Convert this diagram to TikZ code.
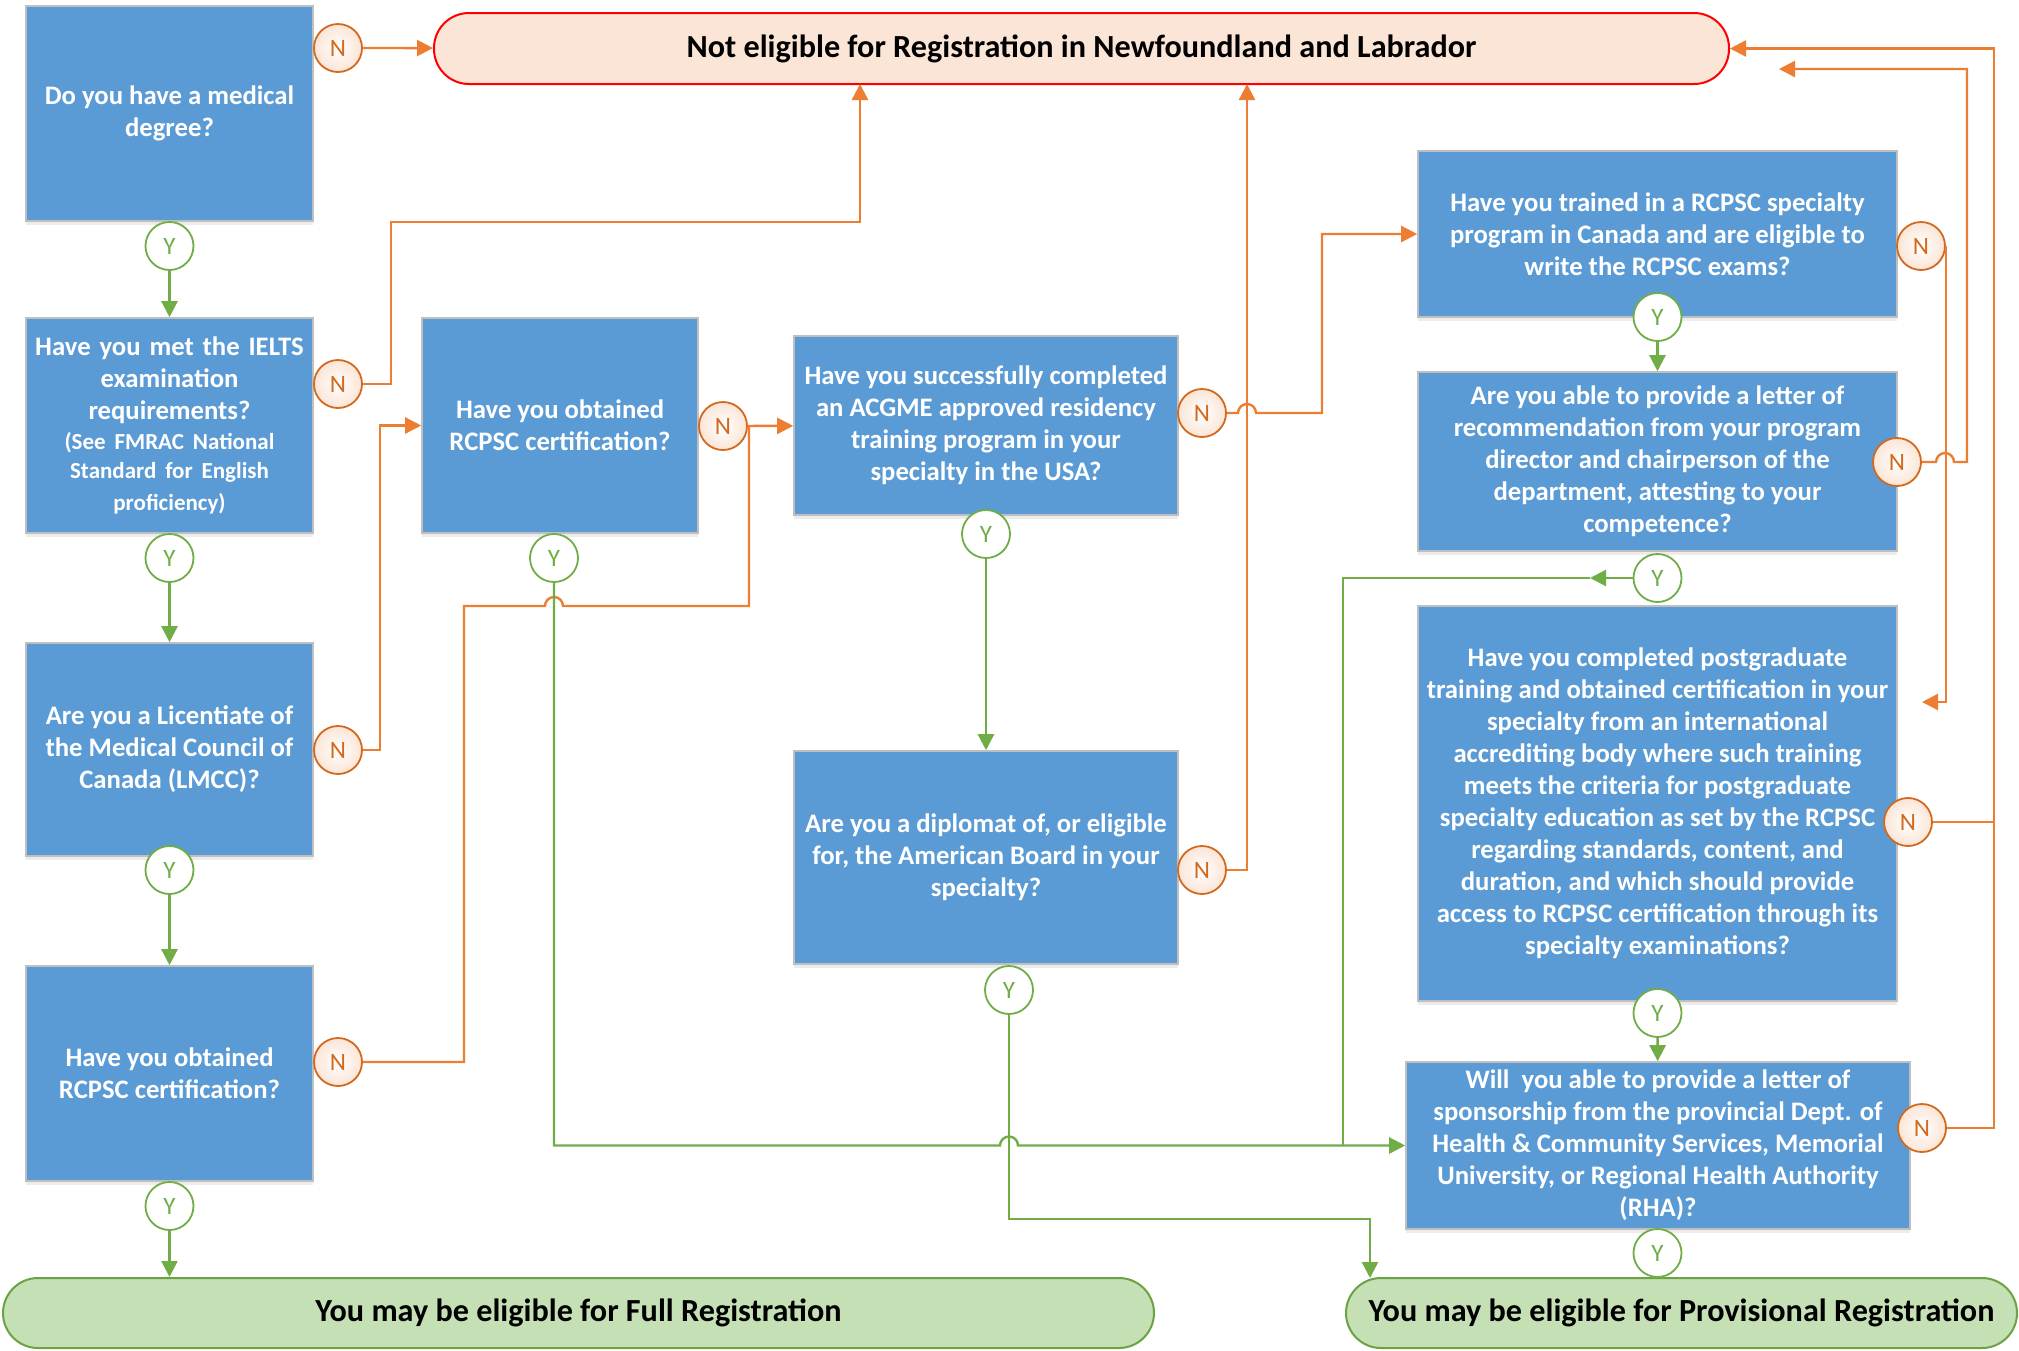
\documentclass[tikz,border=0pt]{standalone}
\usepackage{fontspec}
\setmainfont{Carlito}
\usetikzlibrary{arrows.meta,positioning,shadows}

\definecolor{qblue}{HTML}{5B9BD5}
\definecolor{qedge}{HTML}{BFBFBF}
\definecolor{noline}{HTML}{ED7D31}
\definecolor{nodark}{HTML}{D2691E}
\definecolor{yesline}{HTML}{70AD47}
\definecolor{peach}{HTML}{FBE5D6}
\definecolor{mint}{HTML}{C5E0B4}
\definecolor{mintedge}{HTML}{6AA343}

\tikzset{
  question/.style={draw=qedge, line width=0.8pt, fill=qblue, text=white,
    font=\bfseries\fontsize{13.35}{16}\selectfont, align=center, inner sep=1pt,
    drop shadow={shadow xshift=0pt, shadow yshift=-2pt, opacity=0.15}},
  terminal/.style={rounded corners=17.5pt, line width=1pt, minimum height=35pt,
    font=\bfseries\fontsize{16.1}{18}\selectfont, text=black},
  nbubble/.style={circle, draw=nodark, line width=0.9pt, inner color=white,
    outer color=peach, text=nodark, minimum size=24pt, inner sep=0pt,
    font=\fontsize{12.5}{14}\selectfont},
  ybubble/.style={nbubble, draw=yesline, outer color=white, text=yesline},
  nopath/.style={draw=noline, line width=1.2pt},
  yespath/.style={draw=yesline, line width=1.2pt},
  arrowed/.style={-{Triangle[length=8pt, width=8pt]}},
}

\begin{document}
\begin{tikzpicture}[x=0.5pt, y=-0.5pt]
  \fill[white] (0,0) rectangle (2019,1350);
  \useasboundingbox (0,0) rectangle (2019,1350);

  % end states
  \node[terminal, draw=red, fill=peach, minimum width=647.5pt, minimum height=35.5pt] (notelig) at (1081.5,48.5) {Not eligible for Registration in Newfoundland and Labrador};
  \node[terminal, draw=mintedge, fill=mint, minimum width=575.5pt] (fullreg) at (578.5,1313) {You may be eligible for Full Registration};
  \node[terminal, draw=mintedge, fill=mint, minimum width=335.5pt] (provreg) at (1681.5,1313) {You may be eligible for Provisional Registration};

  % questions
  \node[question, minimum width=143.5pt, minimum height=107.5pt] (qdegree) at (169.5,113.5) {Do you have a medical\\degree?};
  \node[question, minimum width=143.5pt, minimum height=107.5pt, text width=140pt] (qielts) at (169.5,425.5) {Have you met the IELTS\\examination\\requirements?\\\fontsize{11.5}{14.8}\selectfont (See FMRAC National\\Standard for English\\proficiency)};
  \node[question, minimum width=143.5pt, minimum height=106.5pt] (qlmcc) at (169.5,749.5) {Are you a Licentiate of\\the Medical Council of\\Canada (LMCC)?};
  \node[question, minimum width=143.5pt, minimum height=107.5pt] (qrcpsc) at (169.5,1073.5) {Have you obtained\\RCPSC certification?};
  \node[question, minimum width=138pt, minimum height=107.5pt] (qrcpscb) at (560,425.5) {Have you obtained\\RCPSC certification?};
  \node[question, minimum width=192pt, minimum height=89.5pt] (qacgme) at (986,425.5) {Have you successfully completed\\an ACGME approved residency\\training program in your\\specialty in the USA?};
  \node[question, minimum width=192pt, minimum height=106.5pt] (qdiplomat) at (986,857.5) {Are you a diplomat of, or eligible\\for, the American Board in your\\specialty?};
  \node[question, minimum width=239.5pt, minimum height=83pt] (qtrain) at (1657.5,234) {Have you trained in a RCPSC specialty\\program in Canada and are eligible to\\write the RCPSC exams?};
  \node[question, minimum width=239.5pt, minimum height=89.5pt] (qletter) at (1657.5,461.5) {Are you able to provide a letter of\\recommendation from your program\\director and chairperson of the\\department, attesting to your\\competence?};
  \node[question, minimum width=239.5pt, minimum height=197.5pt] (qpostgrad) at (1657.5,803.5) {Have you completed postgraduate\\training and obtained certification in your\\specialty from an international\\accrediting body where such training\\meets the criteria for postgraduate\\specialty education as set by the RCPSC\\regarding standards, content, and\\duration, and which should provide\\access to RCPSC certification through its\\specialty examinations?};
  \node[question, minimum width=252pt, minimum height=83.5pt] (qsponsor) at (1658,1145.5) {Will~ you able to provide a letter of\\sponsorship from the provincial Dept. of\\Health \& Community Services, Memorial\\University, or Regional Health Authority\\(RHA)?};

  % answers
  \node[nbubble] (n1) at (338,48) {N};
  \node[nbubble] (n2) at (338,384) {N};
  \node[nbubble] (n3) at (723,426) {N};
  \node[nbubble] (n4) at (338,750) {N};
  \node[nbubble] (n5) at (338,1062) {N};
  \node[nbubble] (n6) at (1202,413) {N};
  \node[nbubble] (n7) at (1202,870) {N};
  \node[nbubble] (n8) at (1921,246) {N};
  \node[nbubble] (n9) at (1897,462) {N};
  \node[nbubble] (n10) at (1908,822) {N};
  \node[nbubble] (n11) at (1922,1128) {N};

  \node[ybubble] (y1) at (169.5,246) {Y};
  \node[ybubble] (y2) at (169.5,558) {Y};
  \node[ybubble] (y3) at (169.5,870) {Y};
  \node[ybubble] (y4) at (169.5,1206) {Y};
  \node[ybubble] (y5) at (554,558) {Y};
  \node[ybubble] (y6) at (986,534) {Y};
  \node[ybubble] (y7) at (1009,990) {Y};
  \node[ybubble] (y8) at (1657.5,317) {Y};
  \node[ybubble] (y9) at (1657.5,578) {Y};
  \node[ybubble] (y10) at (1657.5,1013) {Y};
  \node[ybubble] (y11) at (1657.5,1253) {Y};

  % bends
  \coordinate (k2a) at (391,222);
  \coordinate (k2b) at (860,84);
  \coordinate (k4) at (380,425.5);
  \coordinate (k5a) at (464,606);
  \coordinate (k5b) at (749,425.5);
  \coordinate (k5c) at (554,1145.5);
  \coordinate (k7) at (1247,84);
  \coordinate (k7a) at (1009,1219);
  \coordinate (k7b) at (1370,1278);
  \coordinate (k8) at (1922,702);
  \coordinate (k9) at (1779,69);
  \coordinate (k9a) at (1590,578);
  \coordinate (k9b) at (1343,1145.5);
  \coordinate (k11) at (1994,48.5);

  % no branches
  \draw[nopath, arrowed] (n1) -- (notelig);
  \draw[nopath, arrowed] (n2) -| (k2a) -| (k2b);
  \draw[nopath, arrowed] (n3) -- (qacgme);
  \draw[nopath, arrowed] (n4) -| (k4) -- (qrcpscb);
  \draw[nopath] (n5) -| (k5a) -- (545,606) arc[start angle=180, end angle=360, radius=9] -- (749,606) -- (k5b);
  \draw[nopath, arrowed] (n6.east) -- (1238,413) arc[start angle=180, end angle=360, radius=9] -- (1322,413) |- (qtrain.west);
  \draw[nopath, arrowed] (n7) -| (k7);
  \draw[nopath, arrowed] (n8.east) |- (k8);
  \draw[nopath, arrowed] (n9.east) -- (1936,462) arc[start angle=180, end angle=360, radius=9] -- (1967,462) |- (k9);
  \draw[nopath] (n10) -- (n10 -| k11);
  \draw[nopath, arrowed] (n11) -| (k11) -- (notelig.east);

  % yes branches
  \draw[yespath, arrowed] (y1) -- (qielts);
  \draw[yespath, arrowed] (y2) -- (qlmcc);
  \draw[yespath, arrowed] (y3) -- (qrcpsc);
  \draw[yespath, arrowed] (y4) -- (y4 |- fullreg.north);
  \draw[yespath, arrowed] (y5) -- (k5c) -- (1000,1145.5) arc[start angle=180, end angle=360, radius=9] -- (qsponsor.west);
  \draw[yespath, arrowed] (y6) -- (qdiplomat);
  \draw[yespath, arrowed] (y7) -- (k7a) -| (k7b);
  \draw[yespath, arrowed] (y8) -- (qletter);
  \draw[yespath, arrowed] (y9) -- (k9a);
  \draw[yespath] (k9a) -| (k9b);
  \draw[yespath, arrowed] (y10) -- (qsponsor);
\end{tikzpicture}
\end{document}
